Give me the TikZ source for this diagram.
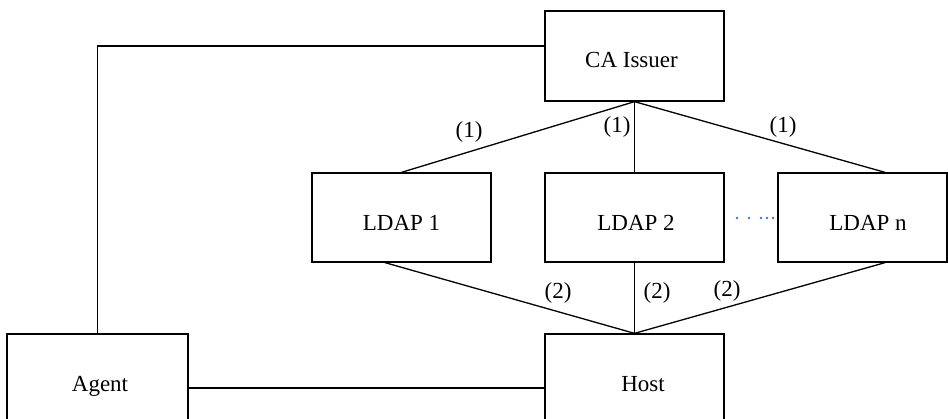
\documentclass[tikz,border=0pt]{standalone}
\usepackage{fontspec}
\setmainfont{Liberation Serif}
\usetikzlibrary{calc}
\begin{document}
\begin{tikzpicture}[x=1pt,y=-1pt,
  box/.style={draw, rectangle, line width=1.3pt, inner sep=0pt, minimum width=179pt, minimum height=90pt},
  conn/.style={draw, line width=1.3pt},
  txt/.style={inner sep=0pt, anchor=base, font=\fontsize{23}{27}\selectfont},
  lbl/.style={inner sep=0pt, anchor=base, font=\fontsize{23}{27}\selectfont},
  dotc/.style={fill={rgb,255:red,68;green,114;blue,196}, draw=none}]
\useasboundingbox (0,0) rectangle (948,419);
\clip (0,0) rectangle (948,419);
% boxes
\node[box] (ca) at (634.5,56) {};
\node[box, minimum height=89pt] (l1) at (401.5,217.5) {};
\node[box, minimum height=89pt] (l2) at (634.5,217.5) {};
\node[box, minimum height=89pt, minimum width=169pt] (ln) at (862.5,217.5) {};
\node[box, minimum width=181pt, minimum height=108pt] (agent) at (97.5,388) {};
\node[box, minimum height=108pt] (host) at (634.5,388) {};
% texts
\node[txt] (tca) at (631.5,68) {CA Issuer};
\node[txt] (tl1) at (401.5,231) {LDAP 1};
\node[txt] (tl2) at (636,231) {LDAP 2};
\node[txt] (tln) at (868,231) {LDAP n};
\node[txt] (tag) at (100,392) {Agent};
\node[txt] (tho) at (643,392) {Host};
% connector endpoints
\coordinate (lnt) at ($(ln.north)+(22.5,0)$);
\coordinate (lnb) at ($(ln.south)+(22.5,0)$);
\coordinate (l1b) at ($(l1.south)+(-16.5,0)$);
\coordinate (caw) at ($(ca.west)+(0,-10)$);
% connectors
\draw[conn] (ca.south) -- (l1.north);
\draw[conn] (ca.south) -- (l2.north);
\draw[conn] (ca.south) -- (lnt);
\draw[conn] (l1b) -- (host.north);
\draw[conn] (l2.south) -- (host.north);
\draw[conn] (lnb) -- (host.north);
\draw[conn] (caw) -| (agent.north);
\draw[conn] (agent.east) -- (host.west);
% labels
\node[lbl] (a1) at (469,137.5) {(1)};
\node[lbl] (a2) at (617,133) {(1)};
\node[lbl] (a3) at (783,133) {(1)};
\node[lbl] (b1) at (558,299) {(2)};
\node[lbl] (b2) at (657,299) {(2)};
\node[lbl] (b3) at (727,297) {(2)};
% dots
\foreach \dx in {737,749,761,767,773} {
  \fill[dotc] (\dx,218) circle (1.3pt);
}
\end{tikzpicture}
\end{document}
